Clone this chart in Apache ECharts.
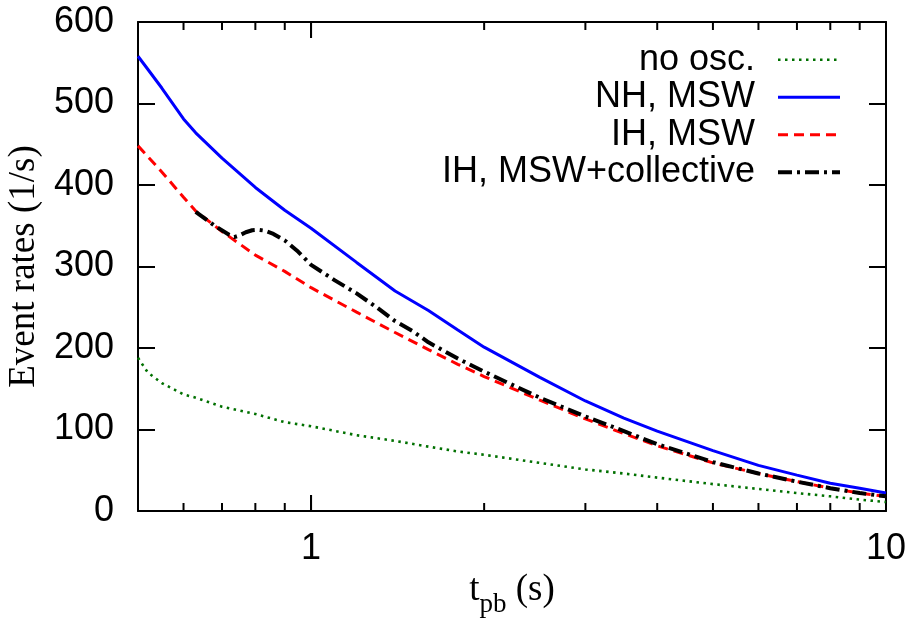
<!DOCTYPE html>
<html>
<head>
<meta charset="utf-8">
<script src="https://cdn.jsdelivr.net/npm/echarts@6/dist/echarts.min.js"></script>
<style>
html,body{margin:0;padding:0;background:#fff;}
#chart{width:917px;height:618px;}
</style>
</head>
<body>
<div id="chart"></div>
<script>
// ---- data ----
const tMain = [0.5,0.52,0.55,0.6,0.63,0.7,0.8,0.9,1,1.2,1.4,1.6,1.8,2,2.5,3,3.5,4,5,6,7,8,9,10];
const noOsc = [188,170,157,143,139,128,119,109,104,93,86,79,73,69,59,51,46,41,33,27,22,18,14,11];
const nhMsw = [558,542,519,481,464,433,397,369,347,305,270,246,222,201,164,135,114,98,74,56,44,34,28,22];
const ihMsw = [448,435,416,385,368,343,314,294,274,244,219,198,180,165,136,113,95,80,59,46,36,28,22,18];
const tColl = [0.63,0.68,0.72,0.735,0.75,0.77,0.79,0.81,0.83,0.86,0.9,0.95,1,1.1,1.2,1.3,1.4,1.5,1.6,1.8,2,2.5,3,3.5,4,5,6,7,8,9,10];
const ihColl = [367,350,339,336,338,342,344.5,345,344,340,332,318,302,283,267,250,233,221,207,187,171,139,116,98,82,60,46,36,28,22,18];
const seriesNames = ['no osc.','NH, MSW','IH, MSW','IH, MSW+collective'];
const majorTicks = [1];
const minorTicks = [0.6,0.7,0.8,0.9,2,3,4,5,6,7,8,9];
const xMin = 0.5, xMax = 10, yMin = 0, yMax = 600, yStep = 100;

const pairs = (xs, ys) => xs.map((x, i) => [x, ys[i]]);

const sans = 'Liberation Sans, Arial, Helvetica, sans-serif';
const serif = 'Liberation Serif, Times New Roman, serif';

const styles = [
  {color: '#007000', width: 2.6, type: [2.5, 4.5], cap: 'butt'},
  {color: '#0000ff', width: 3, type: 'solid'},
  {color: '#ff0000', width: 3, type: [10, 6]},
  {color: '#000000', width: 4, type: [14, 5, 3, 5]}
];

const chart = echarts.init(document.getElementById('chart'));

const mkAxisLine = () => ({show: true, onZero: false, lineStyle: {color: '#000', width: 2}});
const mkTick = len => ({show: true, inside: true, length: len, lineStyle: {color: '#000', width: 2}});

// tick marks drawn as scatter symbols placed by the axes' own scales
const tickSeries = (values, yVal, len, dir) => ({
  type: 'scatter', silent: true, clip: false, z: 20,
  data: values.map(t => [t, yVal]),
  symbol: 'rect',
  symbolSize: [2, len],
  symbolOffset: [0, dir * len / 2],
  itemStyle: {color: '#000', opacity: 1},
  emphasis: {disabled: true}
});

const option = {
  backgroundColor: '#fff',
  animation: false,
  grid: {left: 138, right: 31, top: 22, bottom: 107, containLabel: false, outerBoundsMode: 'none'},
  legend: {
    data: seriesNames.map((n, i) => ({
      name: n,
      itemStyle: {opacity: 0},
      lineStyle: Object.assign({}, styles[i])
    })),
    orient: 'vertical',
    right: 70,
    top: 36,
    align: 'right',
    itemWidth: 62,
    itemHeight: 14,
    itemGap: 0,
    textStyle: {fontFamily: sans, fontSize: 36, color: '#000', lineHeight: 37.5, padding: [0, 18, 0, 0]},
    inactiveColor: '#000'
  },
  xAxis: [{
    type: 'log', min: xMin, max: xMax, position: 'bottom',
    axisLine: mkAxisLine(),
    axisTick: mkTick(16),
    axisLabel: {fontFamily: sans, fontSize: 36, color: '#000', margin: 20, showMinLabel: false},
    splitLine: {show: false},
    name: '{a|t}{b|pb}{a| (s)}',
    nameLocation: 'middle',
    nameGap: 49,
    nameTextStyle: {
      rich: {
        a: {fontFamily: serif, fontSize: 37, color: '#000'},
        b: {fontFamily: serif, fontSize: 27, color: '#000', padding: [30, 0, 0, 0]}
      }
    }
  }, {
    type: 'log', min: xMin, max: xMax, position: 'top',
    axisLine: mkAxisLine(),
    axisTick: mkTick(16),
    axisLabel: {show: false},
    splitLine: {show: false}
  }],
  yAxis: [{
    type: 'value', min: yMin, max: yMax, interval: yStep, position: 'left',
    axisLine: mkAxisLine(),
    axisTick: mkTick(17),
    axisLabel: {fontFamily: sans, fontSize: 36, color: '#000', margin: 24},
    splitLine: {show: false},
    name: 'Event rates (1/s)',
    nameLocation: 'middle',
    nameRotate: 90,
    nameGap: 86,
    nameTextStyle: {fontFamily: serif, fontSize: 37, color: '#000'}
  }, {
    type: 'value', min: yMin, max: yMax, interval: yStep, position: 'right',
    axisLine: mkAxisLine(),
    axisTick: mkTick(17),
    axisLabel: {show: false},
    splitLine: {show: false}
  }],
  series: [
    tickSeries(majorTicks, yMin, 16, -1),
    tickSeries(majorTicks, yMax, 16, 1),
    tickSeries(minorTicks, yMin, 8, -1),
    tickSeries(minorTicks, yMax, 8, 1),
    {
      name: seriesNames[0], type: 'line', data: pairs(tMain, noOsc), symbol: 'none',
      lineStyle: styles[0], itemStyle: {color: styles[0].color}
    },
    {
      name: seriesNames[1], type: 'line', data: pairs(tMain, nhMsw), symbol: 'none',
      lineStyle: styles[1], itemStyle: {color: styles[1].color}
    },
    {
      name: seriesNames[2], type: 'line', data: pairs(tMain, ihMsw), symbol: 'none',
      lineStyle: styles[2], itemStyle: {color: styles[2].color}
    },
    {
      name: seriesNames[3], type: 'line', data: pairs(tColl, ihColl), symbol: 'none',
      lineStyle: styles[3], itemStyle: {color: styles[3].color}
    }
  ]
};
chart.setOption(option);
</script>
</body>
</html>
